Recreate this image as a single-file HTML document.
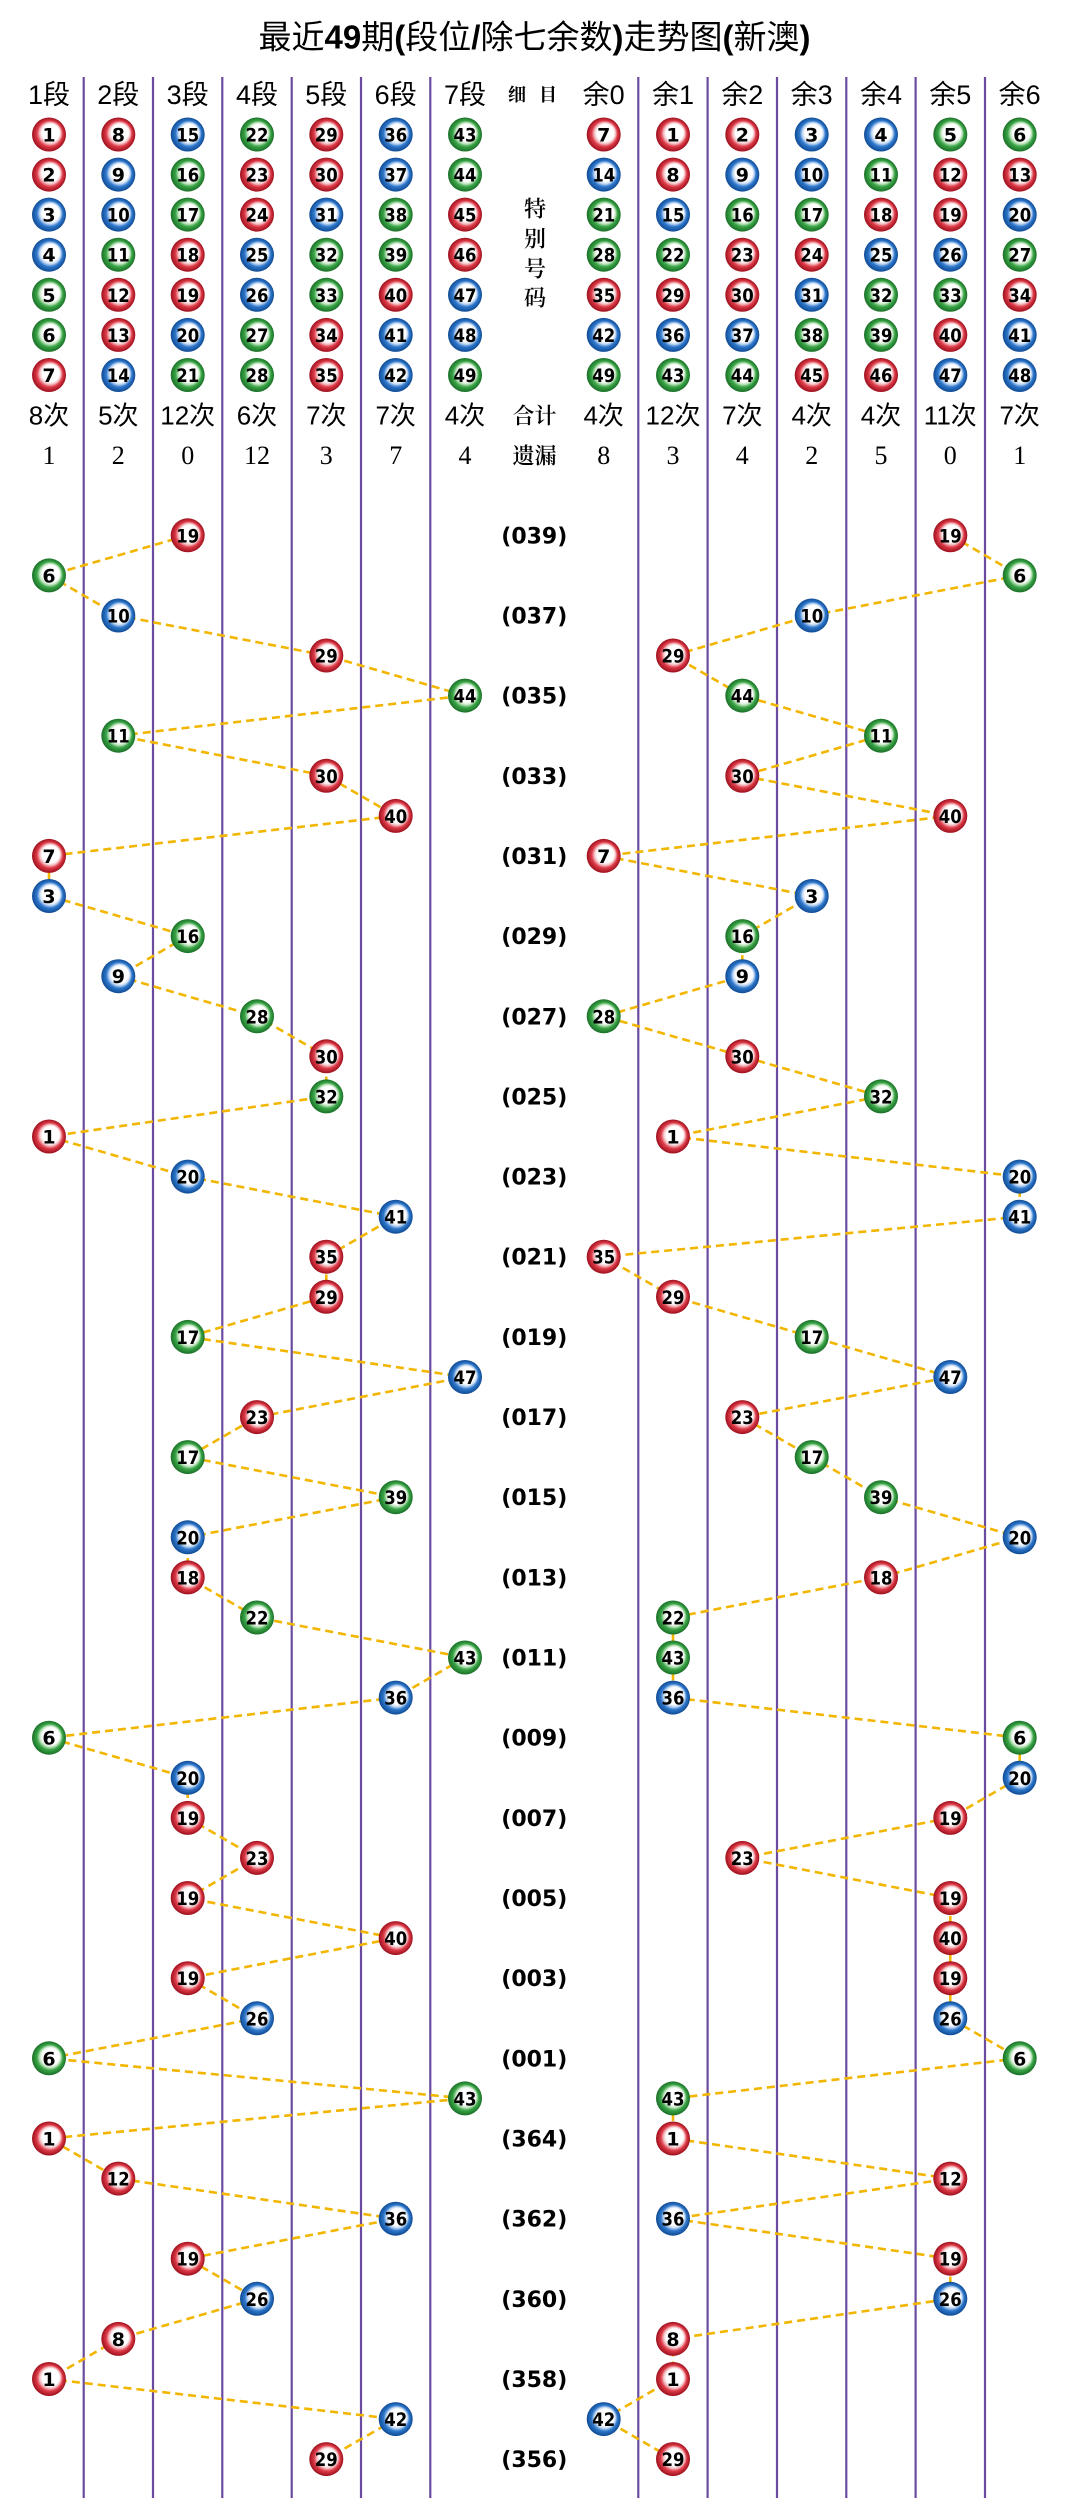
<!DOCTYPE html>
<html><head><meta charset="utf-8">
<style>
html,body{margin:0;padding:0;background:#fff;}
svg{display:block;}
.bl text{font-family:"DejaVu Sans",sans-serif;font-weight:bold;font-size:19px;text-anchor:middle;fill:#000;}
.R{fill:url(#gR);} .B{fill:url(#gB);} .G{fill:url(#gG);}
.hd{font-family:"Liberation Sans","Noto Sans CJK SC",sans-serif;font-size:27px;text-anchor:middle;fill:#000;}
.ct{font-family:"Liberation Sans","Noto Sans CJK SC",sans-serif;font-size:26px;text-anchor:middle;fill:#000;}
.ms{font-family:"Liberation Serif",serif;font-size:26px;text-anchor:middle;fill:#000;}
.md{font-family:"Liberation Serif","Noto Serif CJK SC",serif;font-size:22px;font-weight:600;text-anchor:middle;fill:#000;}
.lb{font-family:"DejaVu Sans",sans-serif;font-weight:bold;font-size:22px;text-anchor:middle;fill:#000;}
.ti{font-family:"Liberation Sans","Noto Sans CJK SC",sans-serif;font-size:33px;text-anchor:middle;fill:#000;}
.vl line{stroke:#6a4ba0;stroke-width:2.2;}
.dl{fill:none;stroke:#f2b600;stroke-width:2.6;stroke-dasharray:8 5;}
</style></head><body>
<svg width="1069" height="2518" viewBox="0 0 1069 2518" xmlns="http://www.w3.org/2000/svg">
<defs>
<radialGradient id="gR" cx="0.5" cy="0.5" r="0.5" fx="0.6" fy="0.4"><stop offset="0" stop-color="#fff"/><stop offset="0.5" stop-color="#fff"/><stop offset="0.62" stop-color="#f4c3c7"/><stop offset="0.76" stop-color="#de3b48"/><stop offset="1" stop-color="#9c0f1c"/></radialGradient>
<radialGradient id="gB" cx="0.5" cy="0.5" r="0.5" fx="0.6" fy="0.4"><stop offset="0" stop-color="#fff"/><stop offset="0.5" stop-color="#fff"/><stop offset="0.62" stop-color="#c3d9f3"/><stop offset="0.76" stop-color="#2f78cc"/><stop offset="1" stop-color="#0f4a93"/></radialGradient>
<radialGradient id="gG" cx="0.5" cy="0.5" r="0.5" fx="0.6" fy="0.4"><stop offset="0" stop-color="#fff"/><stop offset="0.5" stop-color="#fff"/><stop offset="0.62" stop-color="#c3e6c1"/><stop offset="0.76" stop-color="#3aa547"/><stop offset="1" stop-color="#1a6f27"/></radialGradient>
</defs>
<rect width="1069" height="2518" fill="#fff"/>

<text class="ti" x="534.5" y="48.5">最近<tspan font-weight="bold">49</tspan>期<tspan font-weight="bold">(</tspan>段位<tspan font-weight="bold">/</tspan>除七余数<tspan font-weight="bold">)</tspan>走势图<tspan font-weight="bold">(</tspan>新澳<tspan font-weight="bold">)</tspan></text>

<g class="vl">
<line x1="83.7" y1="77" x2="83.7" y2="2498"/><line x1="153" y1="77" x2="153" y2="2498"/><line x1="222.3" y1="77" x2="222.3" y2="2498"/><line x1="291.7" y1="77" x2="291.7" y2="2498"/><line x1="361" y1="77" x2="361" y2="2498"/><line x1="430.3" y1="77" x2="430.3" y2="2498"/>
<line x1="638.3" y1="77" x2="638.3" y2="2498"/><line x1="707.6" y1="77" x2="707.6" y2="2498"/><line x1="777" y1="77" x2="777" y2="2498"/><line x1="846.3" y1="77" x2="846.3" y2="2498"/><line x1="915.6" y1="77" x2="915.6" y2="2498"/><line x1="985" y1="77" x2="985" y2="2498"/>
</g>

<!-- header -->
<text class="hd" x="49" y="104">1段</text><text class="hd" x="118.3" y="104">2段</text><text class="hd" x="187.7" y="104">3段</text><text class="hd" x="257" y="104">4段</text><text class="hd" x="326.3" y="104">5段</text><text class="hd" x="395.7" y="104">6段</text><text class="hd" x="465" y="104">7段</text>
<text class="hd" x="603.7" y="104">余0</text><text class="hd" x="673" y="104">余1</text><text class="hd" x="742.3" y="104">余2</text><text class="hd" x="811.7" y="104">余3</text><text class="hd" x="881" y="104">余4</text><text class="hd" x="950.3" y="104">余5</text><text class="hd" x="1019.7" y="104">余6</text>

<text class="md" x="517" y="101" style="font-size:18px;font-weight:bold">细</text><text class="md" x="548" y="101" style="font-size:18px;font-weight:bold">目</text>
<text class="md" x="535" y="216.4">特</text><text class="md" x="535" y="246.4">别</text><text class="md" x="535" y="276.4">号</text><text class="md" x="535" y="305.4">码</text>
<text class="md" x="534.5" y="423.4">合计</text>
<text class="md" x="534.5" y="463.4">遗漏</text>

<text class="ct" x="49" y="424.4">8次</text><text class="ct" x="118.3" y="424.4">5次</text><text class="ct" x="187.7" y="424.4">12次</text><text class="ct" x="257" y="424.4">6次</text><text class="ct" x="326.3" y="424.4">7次</text><text class="ct" x="395.7" y="424.4">7次</text><text class="ct" x="465" y="424.4">4次</text>
<text class="ct" x="603.7" y="424.4">4次</text><text class="ct" x="673" y="424.4">12次</text><text class="ct" x="742.3" y="424.4">7次</text><text class="ct" x="811.7" y="424.4">4次</text><text class="ct" x="881" y="424.4">4次</text><text class="ct" x="950.3" y="424.4">11次</text><text class="ct" x="1019.7" y="424.4">7次</text>

<text class="ms" x="49" y="464">1</text><text class="ms" x="118.3" y="464">2</text><text class="ms" x="187.7" y="464">0</text><text class="ms" x="257" y="464">12</text><text class="ms" x="326.3" y="464">3</text><text class="ms" x="395.7" y="464">7</text><text class="ms" x="465" y="464">4</text>
<text class="ms" x="603.7" y="464">8</text><text class="ms" x="673" y="464">3</text><text class="ms" x="742.3" y="464">4</text><text class="ms" x="811.7" y="464">2</text><text class="ms" x="881" y="464">5</text><text class="ms" x="950.3" y="464">0</text><text class="ms" x="1019.7" y="464">1</text>

<!-- header balls -->
<g class="bl">
<g transform="translate(49,134.5)"><circle class="R" r="17"/><text y="7">1</text></g>
<g transform="translate(49,174.6)"><circle class="R" r="17"/><text y="7">2</text></g>
<g transform="translate(49,214.6)"><circle class="B" r="17"/><text y="7">3</text></g>
<g transform="translate(49,254.7)"><circle class="B" r="17"/><text y="7">4</text></g>
<g transform="translate(49,294.8)"><circle class="G" r="17"/><text y="7">5</text></g>
<g transform="translate(49,334.9)"><circle class="G" r="17"/><text y="7">6</text></g>
<g transform="translate(49,375)"><circle class="R" r="17"/><text y="7">7</text></g>

<g transform="translate(118.3,134.5)"><circle class="R" r="17"/><text y="7">8</text></g>
<g transform="translate(118.3,174.6)"><circle class="B" r="17"/><text y="7">9</text></g>
<g transform="translate(118.3,214.6)"><circle class="B" r="17"/><text y="7" textLength="23" lengthAdjust="spacingAndGlyphs">10</text></g>
<g transform="translate(118.3,254.7)"><circle class="G" r="17"/><text y="7" textLength="23" lengthAdjust="spacingAndGlyphs">11</text></g>
<g transform="translate(118.3,294.8)"><circle class="R" r="17"/><text y="7" textLength="23" lengthAdjust="spacingAndGlyphs">12</text></g>
<g transform="translate(118.3,334.9)"><circle class="R" r="17"/><text y="7" textLength="23" lengthAdjust="spacingAndGlyphs">13</text></g>
<g transform="translate(118.3,375)"><circle class="B" r="17"/><text y="7" textLength="23" lengthAdjust="spacingAndGlyphs">14</text></g>

<g transform="translate(187.7,134.5)"><circle class="B" r="17"/><text y="7" textLength="23" lengthAdjust="spacingAndGlyphs">15</text></g>
<g transform="translate(187.7,174.6)"><circle class="G" r="17"/><text y="7" textLength="23" lengthAdjust="spacingAndGlyphs">16</text></g>
<g transform="translate(187.7,214.6)"><circle class="G" r="17"/><text y="7" textLength="23" lengthAdjust="spacingAndGlyphs">17</text></g>
<g transform="translate(187.7,254.7)"><circle class="R" r="17"/><text y="7" textLength="23" lengthAdjust="spacingAndGlyphs">18</text></g>
<g transform="translate(187.7,294.8)"><circle class="R" r="17"/><text y="7" textLength="23" lengthAdjust="spacingAndGlyphs">19</text></g>
<g transform="translate(187.7,334.9)"><circle class="B" r="17"/><text y="7" textLength="23" lengthAdjust="spacingAndGlyphs">20</text></g>
<g transform="translate(187.7,375)"><circle class="G" r="17"/><text y="7" textLength="23" lengthAdjust="spacingAndGlyphs">21</text></g>

<g transform="translate(257,134.5)"><circle class="G" r="17"/><text y="7" textLength="23" lengthAdjust="spacingAndGlyphs">22</text></g>
<g transform="translate(257,174.6)"><circle class="R" r="17"/><text y="7" textLength="23" lengthAdjust="spacingAndGlyphs">23</text></g>
<g transform="translate(257,214.6)"><circle class="R" r="17"/><text y="7" textLength="23" lengthAdjust="spacingAndGlyphs">24</text></g>
<g transform="translate(257,254.7)"><circle class="B" r="17"/><text y="7" textLength="23" lengthAdjust="spacingAndGlyphs">25</text></g>
<g transform="translate(257,294.8)"><circle class="B" r="17"/><text y="7" textLength="23" lengthAdjust="spacingAndGlyphs">26</text></g>
<g transform="translate(257,334.9)"><circle class="G" r="17"/><text y="7" textLength="23" lengthAdjust="spacingAndGlyphs">27</text></g>
<g transform="translate(257,375)"><circle class="G" r="17"/><text y="7" textLength="23" lengthAdjust="spacingAndGlyphs">28</text></g>

<g transform="translate(326.3,134.5)"><circle class="R" r="17"/><text y="7" textLength="23" lengthAdjust="spacingAndGlyphs">29</text></g>
<g transform="translate(326.3,174.6)"><circle class="R" r="17"/><text y="7" textLength="23" lengthAdjust="spacingAndGlyphs">30</text></g>
<g transform="translate(326.3,214.6)"><circle class="B" r="17"/><text y="7" textLength="23" lengthAdjust="spacingAndGlyphs">31</text></g>
<g transform="translate(326.3,254.7)"><circle class="G" r="17"/><text y="7" textLength="23" lengthAdjust="spacingAndGlyphs">32</text></g>
<g transform="translate(326.3,294.8)"><circle class="G" r="17"/><text y="7" textLength="23" lengthAdjust="spacingAndGlyphs">33</text></g>
<g transform="translate(326.3,334.9)"><circle class="R" r="17"/><text y="7" textLength="23" lengthAdjust="spacingAndGlyphs">34</text></g>
<g transform="translate(326.3,375)"><circle class="R" r="17"/><text y="7" textLength="23" lengthAdjust="spacingAndGlyphs">35</text></g>

<g transform="translate(395.7,134.5)"><circle class="B" r="17"/><text y="7" textLength="23" lengthAdjust="spacingAndGlyphs">36</text></g>
<g transform="translate(395.7,174.6)"><circle class="B" r="17"/><text y="7" textLength="23" lengthAdjust="spacingAndGlyphs">37</text></g>
<g transform="translate(395.7,214.6)"><circle class="G" r="17"/><text y="7" textLength="23" lengthAdjust="spacingAndGlyphs">38</text></g>
<g transform="translate(395.7,254.7)"><circle class="G" r="17"/><text y="7" textLength="23" lengthAdjust="spacingAndGlyphs">39</text></g>
<g transform="translate(395.7,294.8)"><circle class="R" r="17"/><text y="7" textLength="23" lengthAdjust="spacingAndGlyphs">40</text></g>
<g transform="translate(395.7,334.9)"><circle class="B" r="17"/><text y="7" textLength="23" lengthAdjust="spacingAndGlyphs">41</text></g>
<g transform="translate(395.7,375)"><circle class="B" r="17"/><text y="7" textLength="23" lengthAdjust="spacingAndGlyphs">42</text></g>

<g transform="translate(465,134.5)"><circle class="G" r="17"/><text y="7" textLength="23" lengthAdjust="spacingAndGlyphs">43</text></g>
<g transform="translate(465,174.6)"><circle class="G" r="17"/><text y="7" textLength="23" lengthAdjust="spacingAndGlyphs">44</text></g>
<g transform="translate(465,214.6)"><circle class="R" r="17"/><text y="7" textLength="23" lengthAdjust="spacingAndGlyphs">45</text></g>
<g transform="translate(465,254.7)"><circle class="R" r="17"/><text y="7" textLength="23" lengthAdjust="spacingAndGlyphs">46</text></g>
<g transform="translate(465,294.8)"><circle class="B" r="17"/><text y="7" textLength="23" lengthAdjust="spacingAndGlyphs">47</text></g>
<g transform="translate(465,334.9)"><circle class="B" r="17"/><text y="7" textLength="23" lengthAdjust="spacingAndGlyphs">48</text></g>
<g transform="translate(465,375)"><circle class="G" r="17"/><text y="7" textLength="23" lengthAdjust="spacingAndGlyphs">49</text></g>

<g transform="translate(603.7,134.5)"><circle class="R" r="17"/><text y="7">7</text></g>
<g transform="translate(603.7,174.6)"><circle class="B" r="17"/><text y="7" textLength="23" lengthAdjust="spacingAndGlyphs">14</text></g>
<g transform="translate(603.7,214.6)"><circle class="G" r="17"/><text y="7" textLength="23" lengthAdjust="spacingAndGlyphs">21</text></g>
<g transform="translate(603.7,254.7)"><circle class="G" r="17"/><text y="7" textLength="23" lengthAdjust="spacingAndGlyphs">28</text></g>
<g transform="translate(603.7,294.8)"><circle class="R" r="17"/><text y="7" textLength="23" lengthAdjust="spacingAndGlyphs">35</text></g>
<g transform="translate(603.7,334.9)"><circle class="B" r="17"/><text y="7" textLength="23" lengthAdjust="spacingAndGlyphs">42</text></g>
<g transform="translate(603.7,375)"><circle class="G" r="17"/><text y="7" textLength="23" lengthAdjust="spacingAndGlyphs">49</text></g>

<g transform="translate(673,134.5)"><circle class="R" r="17"/><text y="7">1</text></g>
<g transform="translate(673,174.6)"><circle class="R" r="17"/><text y="7">8</text></g>
<g transform="translate(673,214.6)"><circle class="B" r="17"/><text y="7" textLength="23" lengthAdjust="spacingAndGlyphs">15</text></g>
<g transform="translate(673,254.7)"><circle class="G" r="17"/><text y="7" textLength="23" lengthAdjust="spacingAndGlyphs">22</text></g>
<g transform="translate(673,294.8)"><circle class="R" r="17"/><text y="7" textLength="23" lengthAdjust="spacingAndGlyphs">29</text></g>
<g transform="translate(673,334.9)"><circle class="B" r="17"/><text y="7" textLength="23" lengthAdjust="spacingAndGlyphs">36</text></g>
<g transform="translate(673,375)"><circle class="G" r="17"/><text y="7" textLength="23" lengthAdjust="spacingAndGlyphs">43</text></g>

<g transform="translate(742.3,134.5)"><circle class="R" r="17"/><text y="7">2</text></g>
<g transform="translate(742.3,174.6)"><circle class="B" r="17"/><text y="7">9</text></g>
<g transform="translate(742.3,214.6)"><circle class="G" r="17"/><text y="7" textLength="23" lengthAdjust="spacingAndGlyphs">16</text></g>
<g transform="translate(742.3,254.7)"><circle class="R" r="17"/><text y="7" textLength="23" lengthAdjust="spacingAndGlyphs">23</text></g>
<g transform="translate(742.3,294.8)"><circle class="R" r="17"/><text y="7" textLength="23" lengthAdjust="spacingAndGlyphs">30</text></g>
<g transform="translate(742.3,334.9)"><circle class="B" r="17"/><text y="7" textLength="23" lengthAdjust="spacingAndGlyphs">37</text></g>
<g transform="translate(742.3,375)"><circle class="G" r="17"/><text y="7" textLength="23" lengthAdjust="spacingAndGlyphs">44</text></g>

<g transform="translate(811.7,134.5)"><circle class="B" r="17"/><text y="7">3</text></g>
<g transform="translate(811.7,174.6)"><circle class="B" r="17"/><text y="7" textLength="23" lengthAdjust="spacingAndGlyphs">10</text></g>
<g transform="translate(811.7,214.6)"><circle class="G" r="17"/><text y="7" textLength="23" lengthAdjust="spacingAndGlyphs">17</text></g>
<g transform="translate(811.7,254.7)"><circle class="R" r="17"/><text y="7" textLength="23" lengthAdjust="spacingAndGlyphs">24</text></g>
<g transform="translate(811.7,294.8)"><circle class="B" r="17"/><text y="7" textLength="23" lengthAdjust="spacingAndGlyphs">31</text></g>
<g transform="translate(811.7,334.9)"><circle class="G" r="17"/><text y="7" textLength="23" lengthAdjust="spacingAndGlyphs">38</text></g>
<g transform="translate(811.7,375)"><circle class="R" r="17"/><text y="7" textLength="23" lengthAdjust="spacingAndGlyphs">45</text></g>

<g transform="translate(881,134.5)"><circle class="B" r="17"/><text y="7">4</text></g>
<g transform="translate(881,174.6)"><circle class="G" r="17"/><text y="7" textLength="23" lengthAdjust="spacingAndGlyphs">11</text></g>
<g transform="translate(881,214.6)"><circle class="R" r="17"/><text y="7" textLength="23" lengthAdjust="spacingAndGlyphs">18</text></g>
<g transform="translate(881,254.7)"><circle class="B" r="17"/><text y="7" textLength="23" lengthAdjust="spacingAndGlyphs">25</text></g>
<g transform="translate(881,294.8)"><circle class="G" r="17"/><text y="7" textLength="23" lengthAdjust="spacingAndGlyphs">32</text></g>
<g transform="translate(881,334.9)"><circle class="G" r="17"/><text y="7" textLength="23" lengthAdjust="spacingAndGlyphs">39</text></g>
<g transform="translate(881,375)"><circle class="R" r="17"/><text y="7" textLength="23" lengthAdjust="spacingAndGlyphs">46</text></g>

<g transform="translate(950.3,134.5)"><circle class="G" r="17"/><text y="7">5</text></g>
<g transform="translate(950.3,174.6)"><circle class="R" r="17"/><text y="7" textLength="23" lengthAdjust="spacingAndGlyphs">12</text></g>
<g transform="translate(950.3,214.6)"><circle class="R" r="17"/><text y="7" textLength="23" lengthAdjust="spacingAndGlyphs">19</text></g>
<g transform="translate(950.3,254.7)"><circle class="B" r="17"/><text y="7" textLength="23" lengthAdjust="spacingAndGlyphs">26</text></g>
<g transform="translate(950.3,294.8)"><circle class="G" r="17"/><text y="7" textLength="23" lengthAdjust="spacingAndGlyphs">33</text></g>
<g transform="translate(950.3,334.9)"><circle class="R" r="17"/><text y="7" textLength="23" lengthAdjust="spacingAndGlyphs">40</text></g>
<g transform="translate(950.3,375)"><circle class="B" r="17"/><text y="7" textLength="23" lengthAdjust="spacingAndGlyphs">47</text></g>

<g transform="translate(1019.7,134.5)"><circle class="G" r="17"/><text y="7">6</text></g>
<g transform="translate(1019.7,174.6)"><circle class="R" r="17"/><text y="7" textLength="23" lengthAdjust="spacingAndGlyphs">13</text></g>
<g transform="translate(1019.7,214.6)"><circle class="B" r="17"/><text y="7" textLength="23" lengthAdjust="spacingAndGlyphs">20</text></g>
<g transform="translate(1019.7,254.7)"><circle class="G" r="17"/><text y="7" textLength="23" lengthAdjust="spacingAndGlyphs">27</text></g>
<g transform="translate(1019.7,294.8)"><circle class="R" r="17"/><text y="7" textLength="23" lengthAdjust="spacingAndGlyphs">34</text></g>
<g transform="translate(1019.7,334.9)"><circle class="B" r="17"/><text y="7" textLength="23" lengthAdjust="spacingAndGlyphs">41</text></g>
<g transform="translate(1019.7,375)"><circle class="B" r="17"/><text y="7" textLength="23" lengthAdjust="spacingAndGlyphs">48</text></g>
</g>

<!-- row labels -->
<text class="lb" x="534.3" y="543.3">(039)</text>
<text class="lb" x="534.3" y="623.5">(037)</text>
<text class="lb" x="534.3" y="703.6">(035)</text>
<text class="lb" x="534.3" y="783.8">(033)</text>
<text class="lb" x="534.3" y="863.9">(031)</text>
<text class="lb" x="534.3" y="944.1">(029)</text>
<text class="lb" x="534.3" y="1024.3">(027)</text>
<text class="lb" x="534.3" y="1104.4">(025)</text>
<text class="lb" x="534.3" y="1184.6">(023)</text>
<text class="lb" x="534.3" y="1264.7">(021)</text>
<text class="lb" x="534.3" y="1344.9">(019)</text>
<text class="lb" x="534.3" y="1425.1">(017)</text>
<text class="lb" x="534.3" y="1505.2">(015)</text>
<text class="lb" x="534.3" y="1585.4">(013)</text>
<text class="lb" x="534.3" y="1665.5">(011)</text>
<text class="lb" x="534.3" y="1745.7">(009)</text>
<text class="lb" x="534.3" y="1825.9">(007)</text>
<text class="lb" x="534.3" y="1906">(005)</text>
<text class="lb" x="534.3" y="1986.2">(003)</text>
<text class="lb" x="534.3" y="2066.3">(001)</text>
<text class="lb" x="534.3" y="2146.5">(364)</text>
<text class="lb" x="534.3" y="2226.7">(362)</text>
<text class="lb" x="534.3" y="2306.8">(360)</text>
<text class="lb" x="534.3" y="2387">(358)</text>
<text class="lb" x="534.3" y="2467.1">(356)</text>

<!-- trend lines -->
<polyline class="dl" points="187.7,535.3 49,575.4 118.3,615.5 326.3,655.5 465,695.6 118.3,735.7 326.3,775.8 395.7,815.9 49,855.9 49,896 187.7,936.1 118.3,976.2 257,1016.3 326.3,1056.3 326.3,1096.4 49,1136.5 187.7,1176.6 395.7,1216.7 326.3,1256.7 326.3,1296.8 187.7,1336.9 465,1377 257,1417.1 187.7,1457.1 395.7,1497.2 187.7,1537.3 187.7,1577.4 257,1617.5 465,1657.5 395.7,1697.6 49,1737.7 187.7,1777.8 187.7,1817.9 257,1857.9 187.7,1898 395.7,1938.1 187.7,1978.2 257,2018.3 49,2058.3 465,2098.4 49,2138.5 118.3,2178.6 395.7,2218.7 187.7,2258.7 257,2298.8 118.3,2338.9 49,2379 395.7,2419.1 326.3,2459.1"/>
<polyline class="dl" points="950.3,535.3 1019.7,575.4 811.7,615.5 673,655.5 742.3,695.6 881,735.7 742.3,775.8 950.3,815.9 603.7,855.9 811.7,896 742.3,936.1 742.3,976.2 603.7,1016.3 742.3,1056.3 881,1096.4 673,1136.5 1019.7,1176.6 1019.7,1216.7 603.7,1256.7 673,1296.8 811.7,1336.9 950.3,1377 742.3,1417.1 811.7,1457.1 881,1497.2 1019.7,1537.3 881,1577.4 673,1617.5 673,1657.5 673,1697.6 1019.7,1737.7 1019.7,1777.8 950.3,1817.9 742.3,1857.9 950.3,1898 950.3,1938.1 950.3,1978.2 950.3,2018.3 1019.7,2058.3 673,2098.4 673,2138.5 950.3,2178.6 673,2218.7 950.3,2258.7 950.3,2298.8 673,2338.9 673,2379 603.7,2419.1 673,2459.1"/>

<!-- data balls -->
<g class="bl">
<g transform="translate(187.7,535.3)"><circle class="R" r="17"/><text y="7" textLength="23" lengthAdjust="spacingAndGlyphs">19</text></g>
<g transform="translate(950.3,535.3)"><circle class="R" r="17"/><text y="7" textLength="23" lengthAdjust="spacingAndGlyphs">19</text></g>
<g transform="translate(49,575.4)"><circle class="G" r="17"/><text y="7">6</text></g>
<g transform="translate(1019.7,575.4)"><circle class="G" r="17"/><text y="7">6</text></g>
<g transform="translate(118.3,615.5)"><circle class="B" r="17"/><text y="7" textLength="23" lengthAdjust="spacingAndGlyphs">10</text></g>
<g transform="translate(811.7,615.5)"><circle class="B" r="17"/><text y="7" textLength="23" lengthAdjust="spacingAndGlyphs">10</text></g>
<g transform="translate(326.3,655.5)"><circle class="R" r="17"/><text y="7" textLength="23" lengthAdjust="spacingAndGlyphs">29</text></g>
<g transform="translate(673,655.5)"><circle class="R" r="17"/><text y="7" textLength="23" lengthAdjust="spacingAndGlyphs">29</text></g>
<g transform="translate(465,695.6)"><circle class="G" r="17"/><text y="7" textLength="23" lengthAdjust="spacingAndGlyphs">44</text></g>
<g transform="translate(742.3,695.6)"><circle class="G" r="17"/><text y="7" textLength="23" lengthAdjust="spacingAndGlyphs">44</text></g>
<g transform="translate(118.3,735.7)"><circle class="G" r="17"/><text y="7" textLength="23" lengthAdjust="spacingAndGlyphs">11</text></g>
<g transform="translate(881,735.7)"><circle class="G" r="17"/><text y="7" textLength="23" lengthAdjust="spacingAndGlyphs">11</text></g>
<g transform="translate(326.3,775.8)"><circle class="R" r="17"/><text y="7" textLength="23" lengthAdjust="spacingAndGlyphs">30</text></g>
<g transform="translate(742.3,775.8)"><circle class="R" r="17"/><text y="7" textLength="23" lengthAdjust="spacingAndGlyphs">30</text></g>
<g transform="translate(395.7,815.9)"><circle class="R" r="17"/><text y="7" textLength="23" lengthAdjust="spacingAndGlyphs">40</text></g>
<g transform="translate(950.3,815.9)"><circle class="R" r="17"/><text y="7" textLength="23" lengthAdjust="spacingAndGlyphs">40</text></g>
<g transform="translate(49,855.9)"><circle class="R" r="17"/><text y="7">7</text></g>
<g transform="translate(603.7,855.9)"><circle class="R" r="17"/><text y="7">7</text></g>
<g transform="translate(49,896)"><circle class="B" r="17"/><text y="7">3</text></g>
<g transform="translate(811.7,896)"><circle class="B" r="17"/><text y="7">3</text></g>
<g transform="translate(187.7,936.1)"><circle class="G" r="17"/><text y="7" textLength="23" lengthAdjust="spacingAndGlyphs">16</text></g>
<g transform="translate(742.3,936.1)"><circle class="G" r="17"/><text y="7" textLength="23" lengthAdjust="spacingAndGlyphs">16</text></g>
<g transform="translate(118.3,976.2)"><circle class="B" r="17"/><text y="7">9</text></g>
<g transform="translate(742.3,976.2)"><circle class="B" r="17"/><text y="7">9</text></g>
<g transform="translate(257,1016.3)"><circle class="G" r="17"/><text y="7" textLength="23" lengthAdjust="spacingAndGlyphs">28</text></g>
<g transform="translate(603.7,1016.3)"><circle class="G" r="17"/><text y="7" textLength="23" lengthAdjust="spacingAndGlyphs">28</text></g>
<g transform="translate(326.3,1056.3)"><circle class="R" r="17"/><text y="7" textLength="23" lengthAdjust="spacingAndGlyphs">30</text></g>
<g transform="translate(742.3,1056.3)"><circle class="R" r="17"/><text y="7" textLength="23" lengthAdjust="spacingAndGlyphs">30</text></g>
<g transform="translate(326.3,1096.4)"><circle class="G" r="17"/><text y="7" textLength="23" lengthAdjust="spacingAndGlyphs">32</text></g>
<g transform="translate(881,1096.4)"><circle class="G" r="17"/><text y="7" textLength="23" lengthAdjust="spacingAndGlyphs">32</text></g>
<g transform="translate(49,1136.5)"><circle class="R" r="17"/><text y="7">1</text></g>
<g transform="translate(673,1136.5)"><circle class="R" r="17"/><text y="7">1</text></g>
<g transform="translate(187.7,1176.6)"><circle class="B" r="17"/><text y="7" textLength="23" lengthAdjust="spacingAndGlyphs">20</text></g>
<g transform="translate(1019.7,1176.6)"><circle class="B" r="17"/><text y="7" textLength="23" lengthAdjust="spacingAndGlyphs">20</text></g>
<g transform="translate(395.7,1216.7)"><circle class="B" r="17"/><text y="7" textLength="23" lengthAdjust="spacingAndGlyphs">41</text></g>
<g transform="translate(1019.7,1216.7)"><circle class="B" r="17"/><text y="7" textLength="23" lengthAdjust="spacingAndGlyphs">41</text></g>
<g transform="translate(326.3,1256.7)"><circle class="R" r="17"/><text y="7" textLength="23" lengthAdjust="spacingAndGlyphs">35</text></g>
<g transform="translate(603.7,1256.7)"><circle class="R" r="17"/><text y="7" textLength="23" lengthAdjust="spacingAndGlyphs">35</text></g>
<g transform="translate(326.3,1296.8)"><circle class="R" r="17"/><text y="7" textLength="23" lengthAdjust="spacingAndGlyphs">29</text></g>
<g transform="translate(673,1296.8)"><circle class="R" r="17"/><text y="7" textLength="23" lengthAdjust="spacingAndGlyphs">29</text></g>
<g transform="translate(187.7,1336.9)"><circle class="G" r="17"/><text y="7" textLength="23" lengthAdjust="spacingAndGlyphs">17</text></g>
<g transform="translate(811.7,1336.9)"><circle class="G" r="17"/><text y="7" textLength="23" lengthAdjust="spacingAndGlyphs">17</text></g>
<g transform="translate(465,1377)"><circle class="B" r="17"/><text y="7" textLength="23" lengthAdjust="spacingAndGlyphs">47</text></g>
<g transform="translate(950.3,1377)"><circle class="B" r="17"/><text y="7" textLength="23" lengthAdjust="spacingAndGlyphs">47</text></g>
<g transform="translate(257,1417.1)"><circle class="R" r="17"/><text y="7" textLength="23" lengthAdjust="spacingAndGlyphs">23</text></g>
<g transform="translate(742.3,1417.1)"><circle class="R" r="17"/><text y="7" textLength="23" lengthAdjust="spacingAndGlyphs">23</text></g>
<g transform="translate(187.7,1457.1)"><circle class="G" r="17"/><text y="7" textLength="23" lengthAdjust="spacingAndGlyphs">17</text></g>
<g transform="translate(811.7,1457.1)"><circle class="G" r="17"/><text y="7" textLength="23" lengthAdjust="spacingAndGlyphs">17</text></g>
<g transform="translate(395.7,1497.2)"><circle class="G" r="17"/><text y="7" textLength="23" lengthAdjust="spacingAndGlyphs">39</text></g>
<g transform="translate(881,1497.2)"><circle class="G" r="17"/><text y="7" textLength="23" lengthAdjust="spacingAndGlyphs">39</text></g>
<g transform="translate(187.7,1537.3)"><circle class="B" r="17"/><text y="7" textLength="23" lengthAdjust="spacingAndGlyphs">20</text></g>
<g transform="translate(1019.7,1537.3)"><circle class="B" r="17"/><text y="7" textLength="23" lengthAdjust="spacingAndGlyphs">20</text></g>
<g transform="translate(187.7,1577.4)"><circle class="R" r="17"/><text y="7" textLength="23" lengthAdjust="spacingAndGlyphs">18</text></g>
<g transform="translate(881,1577.4)"><circle class="R" r="17"/><text y="7" textLength="23" lengthAdjust="spacingAndGlyphs">18</text></g>
<g transform="translate(257,1617.5)"><circle class="G" r="17"/><text y="7" textLength="23" lengthAdjust="spacingAndGlyphs">22</text></g>
<g transform="translate(673,1617.5)"><circle class="G" r="17"/><text y="7" textLength="23" lengthAdjust="spacingAndGlyphs">22</text></g>
<g transform="translate(465,1657.5)"><circle class="G" r="17"/><text y="7" textLength="23" lengthAdjust="spacingAndGlyphs">43</text></g>
<g transform="translate(673,1657.5)"><circle class="G" r="17"/><text y="7" textLength="23" lengthAdjust="spacingAndGlyphs">43</text></g>
<g transform="translate(395.7,1697.6)"><circle class="B" r="17"/><text y="7" textLength="23" lengthAdjust="spacingAndGlyphs">36</text></g>
<g transform="translate(673,1697.6)"><circle class="B" r="17"/><text y="7" textLength="23" lengthAdjust="spacingAndGlyphs">36</text></g>
<g transform="translate(49,1737.7)"><circle class="G" r="17"/><text y="7">6</text></g>
<g transform="translate(1019.7,1737.7)"><circle class="G" r="17"/><text y="7">6</text></g>
<g transform="translate(187.7,1777.8)"><circle class="B" r="17"/><text y="7" textLength="23" lengthAdjust="spacingAndGlyphs">20</text></g>
<g transform="translate(1019.7,1777.8)"><circle class="B" r="17"/><text y="7" textLength="23" lengthAdjust="spacingAndGlyphs">20</text></g>
<g transform="translate(187.7,1817.9)"><circle class="R" r="17"/><text y="7" textLength="23" lengthAdjust="spacingAndGlyphs">19</text></g>
<g transform="translate(950.3,1817.9)"><circle class="R" r="17"/><text y="7" textLength="23" lengthAdjust="spacingAndGlyphs">19</text></g>
<g transform="translate(257,1857.9)"><circle class="R" r="17"/><text y="7" textLength="23" lengthAdjust="spacingAndGlyphs">23</text></g>
<g transform="translate(742.3,1857.9)"><circle class="R" r="17"/><text y="7" textLength="23" lengthAdjust="spacingAndGlyphs">23</text></g>
<g transform="translate(187.7,1898)"><circle class="R" r="17"/><text y="7" textLength="23" lengthAdjust="spacingAndGlyphs">19</text></g>
<g transform="translate(950.3,1898)"><circle class="R" r="17"/><text y="7" textLength="23" lengthAdjust="spacingAndGlyphs">19</text></g>
<g transform="translate(395.7,1938.1)"><circle class="R" r="17"/><text y="7" textLength="23" lengthAdjust="spacingAndGlyphs">40</text></g>
<g transform="translate(950.3,1938.1)"><circle class="R" r="17"/><text y="7" textLength="23" lengthAdjust="spacingAndGlyphs">40</text></g>
<g transform="translate(187.7,1978.2)"><circle class="R" r="17"/><text y="7" textLength="23" lengthAdjust="spacingAndGlyphs">19</text></g>
<g transform="translate(950.3,1978.2)"><circle class="R" r="17"/><text y="7" textLength="23" lengthAdjust="spacingAndGlyphs">19</text></g>
<g transform="translate(257,2018.3)"><circle class="B" r="17"/><text y="7" textLength="23" lengthAdjust="spacingAndGlyphs">26</text></g>
<g transform="translate(950.3,2018.3)"><circle class="B" r="17"/><text y="7" textLength="23" lengthAdjust="spacingAndGlyphs">26</text></g>
<g transform="translate(49,2058.3)"><circle class="G" r="17"/><text y="7">6</text></g>
<g transform="translate(1019.7,2058.3)"><circle class="G" r="17"/><text y="7">6</text></g>
<g transform="translate(465,2098.4)"><circle class="G" r="17"/><text y="7" textLength="23" lengthAdjust="spacingAndGlyphs">43</text></g>
<g transform="translate(673,2098.4)"><circle class="G" r="17"/><text y="7" textLength="23" lengthAdjust="spacingAndGlyphs">43</text></g>
<g transform="translate(49,2138.5)"><circle class="R" r="17"/><text y="7">1</text></g>
<g transform="translate(673,2138.5)"><circle class="R" r="17"/><text y="7">1</text></g>
<g transform="translate(118.3,2178.6)"><circle class="R" r="17"/><text y="7" textLength="23" lengthAdjust="spacingAndGlyphs">12</text></g>
<g transform="translate(950.3,2178.6)"><circle class="R" r="17"/><text y="7" textLength="23" lengthAdjust="spacingAndGlyphs">12</text></g>
<g transform="translate(395.7,2218.7)"><circle class="B" r="17"/><text y="7" textLength="23" lengthAdjust="spacingAndGlyphs">36</text></g>
<g transform="translate(673,2218.7)"><circle class="B" r="17"/><text y="7" textLength="23" lengthAdjust="spacingAndGlyphs">36</text></g>
<g transform="translate(187.7,2258.7)"><circle class="R" r="17"/><text y="7" textLength="23" lengthAdjust="spacingAndGlyphs">19</text></g>
<g transform="translate(950.3,2258.7)"><circle class="R" r="17"/><text y="7" textLength="23" lengthAdjust="spacingAndGlyphs">19</text></g>
<g transform="translate(257,2298.8)"><circle class="B" r="17"/><text y="7" textLength="23" lengthAdjust="spacingAndGlyphs">26</text></g>
<g transform="translate(950.3,2298.8)"><circle class="B" r="17"/><text y="7" textLength="23" lengthAdjust="spacingAndGlyphs">26</text></g>
<g transform="translate(118.3,2338.9)"><circle class="R" r="17"/><text y="7">8</text></g>
<g transform="translate(673,2338.9)"><circle class="R" r="17"/><text y="7">8</text></g>
<g transform="translate(49,2379)"><circle class="R" r="17"/><text y="7">1</text></g>
<g transform="translate(673,2379)"><circle class="R" r="17"/><text y="7">1</text></g>
<g transform="translate(395.7,2419.1)"><circle class="B" r="17"/><text y="7" textLength="23" lengthAdjust="spacingAndGlyphs">42</text></g>
<g transform="translate(603.7,2419.1)"><circle class="B" r="17"/><text y="7" textLength="23" lengthAdjust="spacingAndGlyphs">42</text></g>
<g transform="translate(326.3,2459.1)"><circle class="R" r="17"/><text y="7" textLength="23" lengthAdjust="spacingAndGlyphs">29</text></g>
<g transform="translate(673,2459.1)"><circle class="R" r="17"/><text y="7" textLength="23" lengthAdjust="spacingAndGlyphs">29</text></g>
</g>
</svg>
</body></html>
